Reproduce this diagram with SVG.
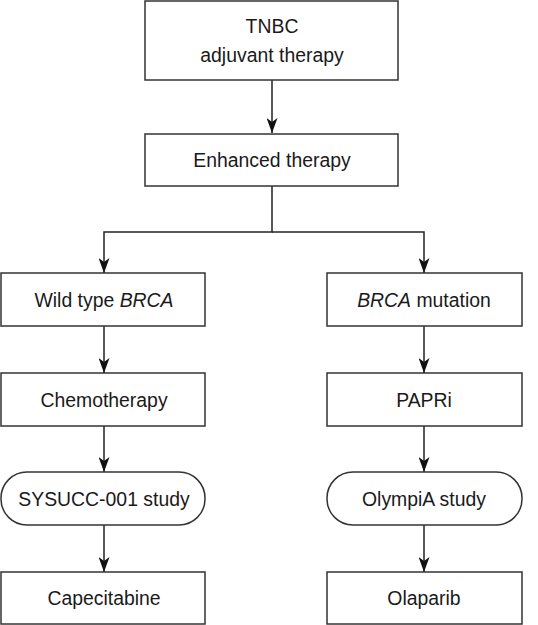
<svg xmlns="http://www.w3.org/2000/svg" width="538" height="625" viewBox="0 0 538 625">
<style>
.box{fill:#fff;stroke:#333;stroke-width:1.5}
.lbl{font-family:"Liberation Sans",Arial,sans-serif;font-size:19.4px;fill:#1a1a1a;text-anchor:middle}
.conn{fill:none;stroke:#222;stroke-width:1.5}
</style>
<defs>
<marker id="ah" markerUnits="userSpaceOnUse" markerWidth="15" markerHeight="11" refX="15" refY="5.5" orient="auto" viewBox="0 0 15 11">
<path d="M0,0 L15,5.5 L0,11 L4,5.5 Z" fill="#111"/>
</marker>
</defs>
<rect width="538" height="625" fill="#fff"/>
<g id="connectors">
<path class="conn" d="M272,80 V133" marker-end="url(#ah)"/>
<path class="conn" d="M272,186 V232 H104 V273" marker-end="url(#ah)"/>
<path class="conn" d="M272,232 H424 V273" marker-end="url(#ah)"/>
<path class="conn" d="M104,326 V373" marker-end="url(#ah)"/>
<path class="conn" d="M424,326 V373" marker-end="url(#ah)"/>
<path class="conn" d="M104,426 V472" marker-end="url(#ah)"/>
<path class="conn" d="M424,426 V472" marker-end="url(#ah)"/>
<path class="conn" d="M104,525 V572" marker-end="url(#ah)"/>
<path class="conn" d="M424,525 V572" marker-end="url(#ah)"/>
</g>
<g id="tnbc">
<rect class="box" x="145" y="1" width="253" height="79"/>
<text class="lbl" x="272" y="33">TNBC</text>
<text class="lbl" x="272" y="62">adjuvant therapy</text>
</g>
<g id="enhanced">
<rect class="box" x="145" y="134" width="253" height="52"/>
<text class="lbl" x="272" y="167">Enhanced therapy</text>
</g>
<g id="wildtype">
<rect class="box" x="1" y="273" width="204" height="53"/>
<text class="lbl" x="104" y="307">Wild type <tspan font-style="italic">BRCA</tspan></text>
</g>
<g id="mutation">
<rect class="box" x="327" y="273" width="195" height="53"/>
<text class="lbl" x="424" y="307"><tspan font-style="italic">BRCA</tspan> mutation</text>
</g>
<g id="chemo">
<rect class="box" x="1" y="373" width="204" height="53"/>
<text class="lbl" x="104" y="407">Chemotherapy</text>
</g>
<g id="papri">
<rect class="box" x="327" y="373" width="195" height="53"/>
<text class="lbl" x="424" y="407">PAPRi</text>
</g>
<g id="sysucc">
<rect class="box" x="1" y="472" width="204" height="53" rx="26" ry="26"/>
<text class="lbl" x="104" y="506">SYSUCC-001 study</text>
</g>
<g id="olympia">
<rect class="box" x="327" y="472" width="195" height="53" rx="26" ry="26"/>
<text class="lbl" x="424" y="506">OlympiA study</text>
</g>
<g id="capecitabine">
<rect class="box" x="1" y="572" width="204" height="52"/>
<text class="lbl" x="104" y="605">Capecitabine</text>
</g>
<g id="olaparib">
<rect class="box" x="327" y="572" width="195" height="52"/>
<text class="lbl" x="424" y="605">Olaparib</text>
</g>
</svg>
